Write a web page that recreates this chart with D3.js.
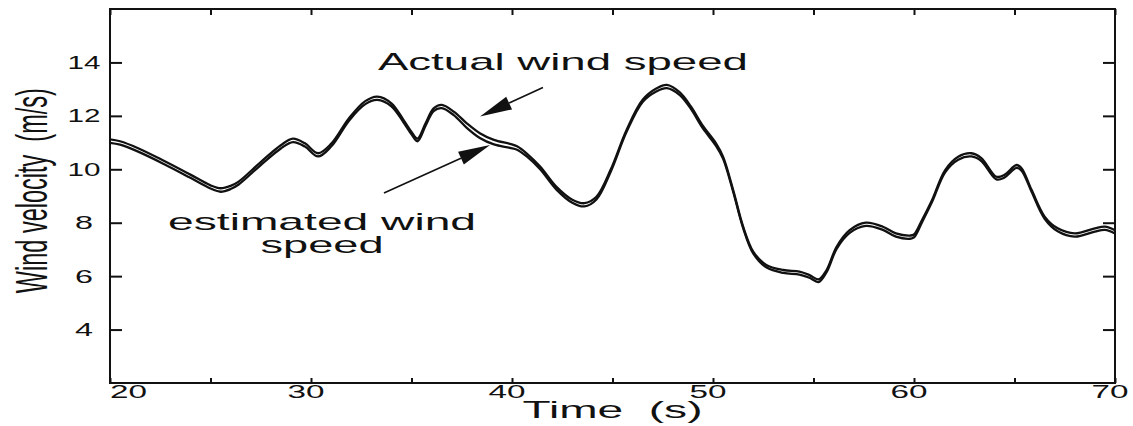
<!DOCTYPE html>
<html>
<head>
<meta charset="utf-8">
<script src="https://cdn.jsdelivr.net/npm/d3@7"></script>
<style>
  body { margin: 0; background: #fff; }
  svg { display: block; }
  text { font-family: 'Liberation Sans', Arial, sans-serif; fill: #111; }
</style>
</head>
<body>
<div id="chart"></div>
<script>
// time axis (s)
const times = [
  20, 20.5, 21.4, 22.7, 24.0, 25.0, 25.5, 26.0, 26.4, 27.5, 28.5, 29.1, 29.7,
  30.35, 31.0, 31.9, 32.7, 33.3, 34.0, 34.6, 35.0, 35.3, 35.7, 36.1, 36.5, 37.1,
  37.75, 38.4, 39.1, 39.9, 40.25, 40.75, 41.4, 42.2, 43.0, 43.6, 44.2, 44.9,
  45.7, 46.5, 47.2, 47.7, 48.35, 48.9, 49.5, 50.15, 50.5, 51.0, 51.5, 52.0,
  52.65, 53.5, 54.3, 54.8, 55.25, 55.65, 56.15, 56.8, 57.6, 58.45, 59.1, 59.8,
  60.0, 60.4, 60.9, 61.55, 62.2, 62.85, 63.35, 64.1, 64.5, 65.1, 65.35, 65.85,
  66.5, 67.15, 68.0, 69.0, 69.5, 70.0
]

// actual wind speed (m/s)
const actualSpeed = [
  11.12, 11.05, 10.79, 10.31, 9.80, 9.40, 9.29, 9.38, 9.54, 10.27, 10.90, 11.15, 10.97,
  10.60, 10.95, 11.92, 12.55, 12.72, 12.47, 11.85, 11.40, 11.15, 11.72, 12.28, 12.41, 12.16,
  11.72, 11.35, 11.10, 10.95, 10.86, 10.58, 10.10, 9.35, 8.86, 8.73, 8.97, 9.97,
  11.47, 12.60, 13.03, 13.16, 12.88, 12.35, 11.62, 10.97, 10.47, 9.23, 7.85, 6.92,
  6.42, 6.23, 6.17, 6.04, 5.88, 6.23, 7.10, 7.72, 8.00, 7.85, 7.60, 7.52,
  7.56, 8.10, 8.85, 9.97, 10.47, 10.60, 10.42, 9.72, 9.79, 10.16, 10.04, 9.23,
  8.23, 7.79, 7.60, 7.79, 7.85, 7.72
]

// estimated wind speed (m/s)
const estimatedSpeed = [
  10.99, 10.92, 10.66, 10.19, 9.68, 9.28, 9.16, 9.26, 9.43, 10.16, 10.78, 11.02, 10.85,
  10.48, 10.85, 11.83, 12.44, 12.60, 12.36, 11.76, 11.31, 11.05, 11.63, 12.18, 12.29, 12.03,
  11.55, 11.17, 10.93, 10.80, 10.73, 10.47, 10.00, 9.25, 8.75, 8.61, 8.87, 9.89,
  11.40, 12.52, 12.92, 13.04, 12.78, 12.26, 11.53, 10.88, 10.40, 9.17, 7.80, 6.85,
  6.33, 6.12, 6.06, 5.94, 5.78, 6.15, 7.02, 7.62, 7.88, 7.73, 7.48, 7.40,
  7.45, 8.02, 8.78, 9.89, 10.36, 10.48, 10.31, 9.62, 9.69, 10.05, 9.95, 9.16,
  8.15, 7.68, 7.48, 7.67, 7.73, 7.60
]

const xTicks = [20, 25, 30, 35, 40, 45, 50, 55, 60, 65, 70]
const xTickLabels = [20, 30, 40, 50, 60, 70]
const yTicks = [4, 6, 8, 10, 12, 14]

const margin = { top: 9, left: 110, right: 18, bottom: 43 }
const width = 1133 - margin.left - margin.right
const height = 426 - margin.top - margin.bottom

const svg = d3
  .select('#chart')
  .append('svg')
  .attr('width', width + margin.left + margin.right)
  .attr('height', height + margin.top + margin.bottom)
  .append('g')
  .attr('transform', 'translate(' + margin.left + ',' + margin.top + ')')

const x = d3.scaleLinear().domain([20, 70]).range([0, width])
const y = d3.scaleLinear().domain([2, 16]).range([height, 0])

svg
  .append('defs')
  .append('clipPath')
  .attr('id', 'plotClip')
  .append('rect')
  .attr('width', width)
  .attr('height', height)

// axes with inward ticks
const bottomAxis = svg
  .append('g')
  .attr('transform', 'translate(0,' + height + ')')
  .call(d3.axisBottom(x).tickValues(xTicks).tickSize(-5).tickFormat(''))
const topAxis = svg
  .append('g')
  .call(d3.axisTop(x).tickValues(xTicks).tickSize(-6).tickFormat(''))
const leftAxis = svg
  .append('g')
  .call(d3.axisLeft(y).tickValues(yTicks).tickSize(-12).tickFormat(d3.format('d')))
const rightAxis = svg
  .append('g')
  .attr('transform', 'translate(' + width + ',0)')
  .call(d3.axisRight(y).tickValues(yTicks).tickSize(-12).tickFormat(''))

;[bottomAxis, topAxis, leftAxis, rightAxis].forEach(a => {
  a.select('.domain').remove()
  a.selectAll('.tick line').attr('stroke', '#111').attr('stroke-width', 2)
})

leftAxis
  .selectAll('.tick text')
  .attr('x', -26)
  .attr('text-anchor', 'middle')
  .attr('font-size', 19)
  .attr('fill', '#111')
  .attr('textLength', d => (String(d).length > 1 ? 33 : 18))
  .attr('lengthAdjust', 'spacingAndGlyphs')

// x tick labels
svg
  .append('g')
  .selectAll('text')
  .data(xTickLabels)
  .enter()
  .append('text')
  .attr('x', (d, i) => (i === 0 ? x(d) : x(d) - 5))
  .attr('y', height + 15)
  .attr('text-anchor', (d, i) => (i === 0 ? 'start' : 'middle'))
  .attr('font-size', 19)
  .attr('textLength', 37)
  .attr('lengthAdjust', 'spacingAndGlyphs')
  .text(d => d)

// frame
svg
  .append('rect')
  .attr('width', width)
  .attr('height', height)
  .attr('fill', 'none')
  .attr('stroke', '#111')
  .attr('stroke-width', 2)

// the two series
const line = d3
  .line()
  .x(d => x(d[0]))
  .y(d => y(d[1]))
  .curve(d3.curveCatmullRom.alpha(0.5))

const plot = svg.append('g').attr('clip-path', 'url(#plotClip)')

plot
  .append('path')
  .datum(d3.zip(times, actualSpeed))
  .attr('d', line)
  .attr('fill', 'none')
  .attr('stroke', '#111')
  .attr('stroke-width', 2.3)

plot
  .append('path')
  .datum(d3.zip(times, estimatedSpeed))
  .attr('d', line)
  .attr('fill', 'none')
  .attr('stroke', '#111')
  .attr('stroke-width', 2.3)

// axis titles
svg
  .append('text')
  .attr('x', x(45))
  .attr('y', height + 35)
  .attr('text-anchor', 'middle')
  .attr('font-size', 24)
  .attr('textLength', 180)
  .attr('lengthAdjust', 'spacingAndGlyphs')
  .attr('xml:space', 'preserve')
  .text('Time  (s)')

svg
  .append('text')
  .attr('transform', 'translate(' + (47 - margin.left) + ',' + y(9.2) + ') rotate(-90)')
  .attr('text-anchor', 'middle')
  .attr('font-size', 44)
  .attr('textLength', 205)
  .attr('lengthAdjust', 'spacingAndGlyphs')
  .attr('xml:space', 'preserve')
  .text('Wind velocity  (m/s)')

// annotations
svg
  .append('text')
  .attr('x', x(33.33))
  .attr('y', y(13.72))
  .attr('font-size', 24)
  .attr('textLength', 370)
  .attr('lengthAdjust', 'spacingAndGlyphs')
  .text('Actual wind speed')

svg
  .append('text')
  .attr('x', x(30.55))
  .attr('y', y(7.73))
  .attr('text-anchor', 'middle')
  .attr('font-size', 24)
  .attr('textLength', 308)
  .attr('lengthAdjust', 'spacingAndGlyphs')
  .text('estimated wind')

svg
  .append('text')
  .attr('x', x(30.55))
  .attr('y', y(6.87))
  .attr('text-anchor', 'middle')
  .attr('font-size', 24)
  .attr('textLength', 123)
  .attr('lengthAdjust', 'spacingAndGlyphs')
  .text('speed')

function arrow(from, to) {
  const x1 = x(from[0]), y1 = y(from[1])
  const x2 = x(to[0]), y2 = y(to[1])
  const ang = Math.atan2(y2 - y1, x2 - x1)
  const headLen = 32, headW = 7
  const bx = x2 - headLen * Math.cos(ang), by = y2 - headLen * Math.sin(ang)
  svg
    .append('line')
    .attr('x1', x1)
    .attr('y1', y1)
    .attr('x2', bx)
    .attr('y2', by)
    .attr('stroke', '#111')
    .attr('stroke-width', 1.6)
  svg
    .append('polygon')
    .attr('points', [
      [x2, y2],
      [bx + headW * Math.sin(ang), by - headW * Math.cos(ang)],
      [bx - headW * Math.sin(ang), by + headW * Math.cos(ang)]
    ].map(p => p.join(',')).join(' '))
    .attr('fill', '#111')
}

arrow([41.54, 13.06], [38.41, 11.98])
arrow([33.63, 9.11], [38.91, 10.91])
</script>
</body>
</html>
